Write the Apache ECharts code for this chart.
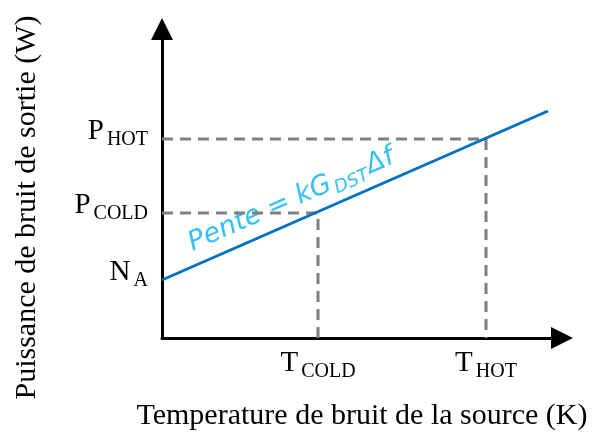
<!DOCTYPE html>
<html>
<head>
<meta charset="utf-8">
<script src="https://cdn.jsdelivr.net/npm/echarts@6/dist/echarts.min.js"></script>
<style>
  * { margin: 0; padding: 0; }
  body { background: #fff; }
</style>
</head>
<body>
<div id="main" style="width: 598px;height: 434px;"></div>
<script>
  // valeurs (unites arbitraires)
  const xMax = 400
  const yMax = 309
  const nA = 58
  const tCold = 156
  const tHot = 324
  const pCold = 125
  const pHot = 199
  const lineX = [0, 386]          // droite de pente
  const lineY = [58, 227]
  const xTicks = [tCold, tHot]
  const xTickLabels = [['T', 'COLD'], ['T', 'HOT']]
  const yTicks = [nA, pCold, pHot]
  const yTickLabels = [['N', 'A'], ['P', 'COLD'], ['P', 'HOT']]
  const slopeLabelAt = [128, 141]

  const serif = 'Liberation Serif'
  const richTick = {
    m: { fontFamily: serif, fontSize: 29, color: '#000', verticalAlign: 'bottom', lineHeight: 30 },
    s: { fontFamily: serif, fontSize: 20, color: '#000', verticalAlign: 'bottom', lineHeight: 30, padding: [0, 0, -4, 3] }
  }
  function tickText(vals, labels) {
    return function (v) {
      const i = vals.indexOf(v)
      if (i < 0) return ''
      return '{m|' + labels[i][0] + '}{s|' + labels[i][1] + '}'
    }
  }

  const dash = { color: '#7f7f7f', width: 3, type: [11, 7] }

  const chart = echarts.init(document.getElementById('main'))
  chart.setOption({
    animation: false,
    grid: { left: 162, right: 36, top: 29, bottom: 96, outerBoundsMode: 'none' },
    xAxis: {
      type: 'value', min: 0, max: xMax,
      name: 'Temperature de bruit de la source (K)',
      nameLocation: 'middle', nameGap: 63,
      nameTextStyle: { fontFamily: serif, fontSize: 30, color: '#000' },
      axisLine: { lineStyle: { color: '#000', width: 3 }, symbol: ['none', 'triangle'], symbolSize: [22, 22] },
      axisTick: { show: false },
      splitLine: { show: false },
      axisLabel: { customValues: xTicks, margin: 10, formatter: tickText(xTicks, xTickLabels), rich: richTick }
    },
    yAxis: {
      type: 'value', min: 0, max: yMax,
      name: 'Puissance de bruit de sortie (W)',
      nameLocation: 'middle', nameGap: 120,
      nameTextStyle: { fontFamily: serif, fontSize: 30, color: '#000', padding: [0, 48, 0, 0] },
      axisLine: { lineStyle: { color: '#000', width: 3 }, symbol: ['none', 'triangle'], symbolSize: [22, 22] },
      axisTick: { show: false },
      splitLine: { show: false },
      axisLabel: {
        customValues: yTicks, margin: 14, padding: [0, 0, 16, 0],
        formatter: tickText(yTicks, yTickLabels), rich: richTick
      }
    },
    series: [
      {
        type: 'line', symbol: 'none', lineStyle: dash,
        data: [[0, pHot], [tHot, pHot], [tHot, 0]]
      },
      {
        type: 'line', symbol: 'none', lineStyle: dash,
        data: [[0, pCold], [tCold, pCold], [tCold, 0]]
      },
      {
        type: 'line', symbol: 'none', z: 5,
        lineStyle: { color: '#0070c0', width: 3 },
        data: lineX.map((x, i) => [x, lineY[i]])
      },
      {
        type: 'scatter', symbolSize: 0, silent: true,
        data: [slopeLabelAt],
        label: {
          show: true, position: 'inside', rotate: 23.6,
          formatter: '{a|Pente = kG}{b|DST}{a|Δf}',
          rich: {
            a: { fontFamily: 'DejaVu Sans', fontStyle: 'italic', fontSize: 27, color: '#00b0f0', verticalAlign: 'bottom', lineHeight: 34 },
            b: { fontFamily: 'DejaVu Sans', fontStyle: 'italic', fontSize: 18, color: '#00b0f0', verticalAlign: 'bottom', lineHeight: 34, padding: [0, 2, -3, 2] }
          }
        }
      }
    ]
  })
</script>
</body>
</html>
